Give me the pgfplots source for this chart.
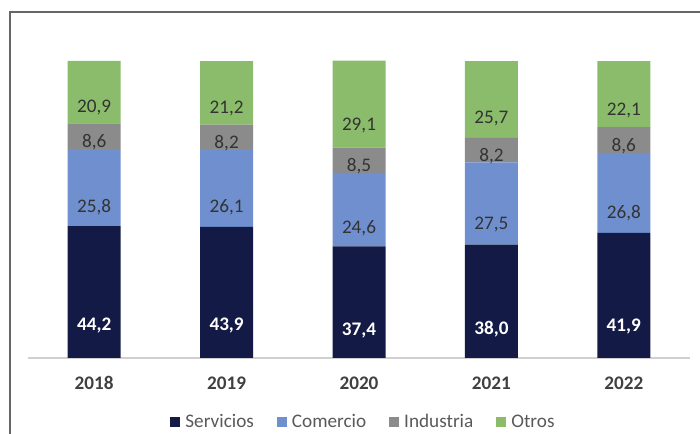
\documentclass[border=0pt]{standalone}
\usepackage{pgfplots}
\pgfplotsset{compat=1.18}
\usepackage{fontspec}
\setmainfont{Carlito}

\definecolor{serv}{HTML}{131A45}
\definecolor{come}{HTML}{6F8FCF}
\definecolor{indu}{HTML}{8B8B8B}
\definecolor{otro}{HTML}{8BBC6B}
\definecolor{lbltext}{HTML}{333333}
\definecolor{ticktext}{HTML}{404040}
\definecolor{legtext}{HTML}{595959}
\definecolor{framecol}{HTML}{666666}
\definecolor{basecol}{HTML}{D0D0D0}

\newcommand{\chartfont}{\fontsize{14.4}{16}\selectfont}

\pgfplotstableread{
x y
0 44.2
1 43.9
2 37.4
3 38.0
4 41.9
}\servicios
\pgfplotstableread{
x y
0 25.8
1 26.1
2 24.6
3 27.5
4 26.8
}\comercio
\pgfplotstableread{
x y
0 8.6
1 8.2
2 8.5
3 8.2
4 8.6
}\industria
\pgfplotstableread{
x y
0 20.9
1 21.2
2 29.1
3 25.7
4 22.1
}\otros

\begin{document}
\begin{tikzpicture}[x=1pt,y=1pt]
\useasboundingbox (0,0) rectangle (525,325.5);
\draw[color=framecol, line width=1.2pt] (7.5,-10) -- (7.5,316.5) -- (540,316.5);
\begin{axis}[
  at={(21pt,57pt)}, anchor=south west,
  scale only axis, width=496.5pt, height=223.9pt,
  xmin=-0.5, xmax=4.5, ymin=0, ymax=100,
  ybar stacked, bar width=39.75pt,
  axis x line=bottom, axis y line=none,
  x axis line style={draw=basecol, line width=0.8pt, -},
  xtick={0,1,2,3,4}, xticklabels={2018,2019,2020,2021,2022},
  ytick=\empty,
  major tick length=0pt,
  xticklabel style={font=\bfseries\chartfont, text=ticktext, anchor=center, yshift=-18.75pt},
  point meta=explicit,
  nodes near coords={\pgfmathprintnumber[fixed,fixed zerofill,precision=1,use comma,assume math mode=true]{\pgfplotspointmeta}},
  visualization depends on=\thisrow{y} \as \rawy,
  every node near coord/.append style={anchor=center, yshift={-\rawy*0.55975pt}, font=\chartfont, text=lbltext},
  legend columns=4,
  legend style={at={(0.507,-0.214)}, anchor=center, draw=none, fill=none,
    font=\chartfont, text=legtext,
    /tikz/every odd column/.append style={column sep=2pt},
    /tikz/every even column/.append style={column sep=15pt}},
  legend image code/.code={\fill[#1] (0pt,-3.75pt) rectangle (7.5pt,3.75pt);},
]
\addplot[fill=serv, draw=none, every node near coord/.append style={text=white, font=\bfseries\chartfont}] table[x=x,y=y,meta=y] {\servicios};
\addplot[fill=come, draw=none] table[x=x,y=y,meta=y] {\comercio};
\addplot[fill=indu, draw=none] table[x=x,y=y,meta=y] {\industria};
\addplot[fill=otro, draw=none] table[x=x,y=y,meta=y] {\otros};
\legend{Servicios,Comercio,Industria,Otros}
\end{axis}
\end{tikzpicture}
\end{document}
